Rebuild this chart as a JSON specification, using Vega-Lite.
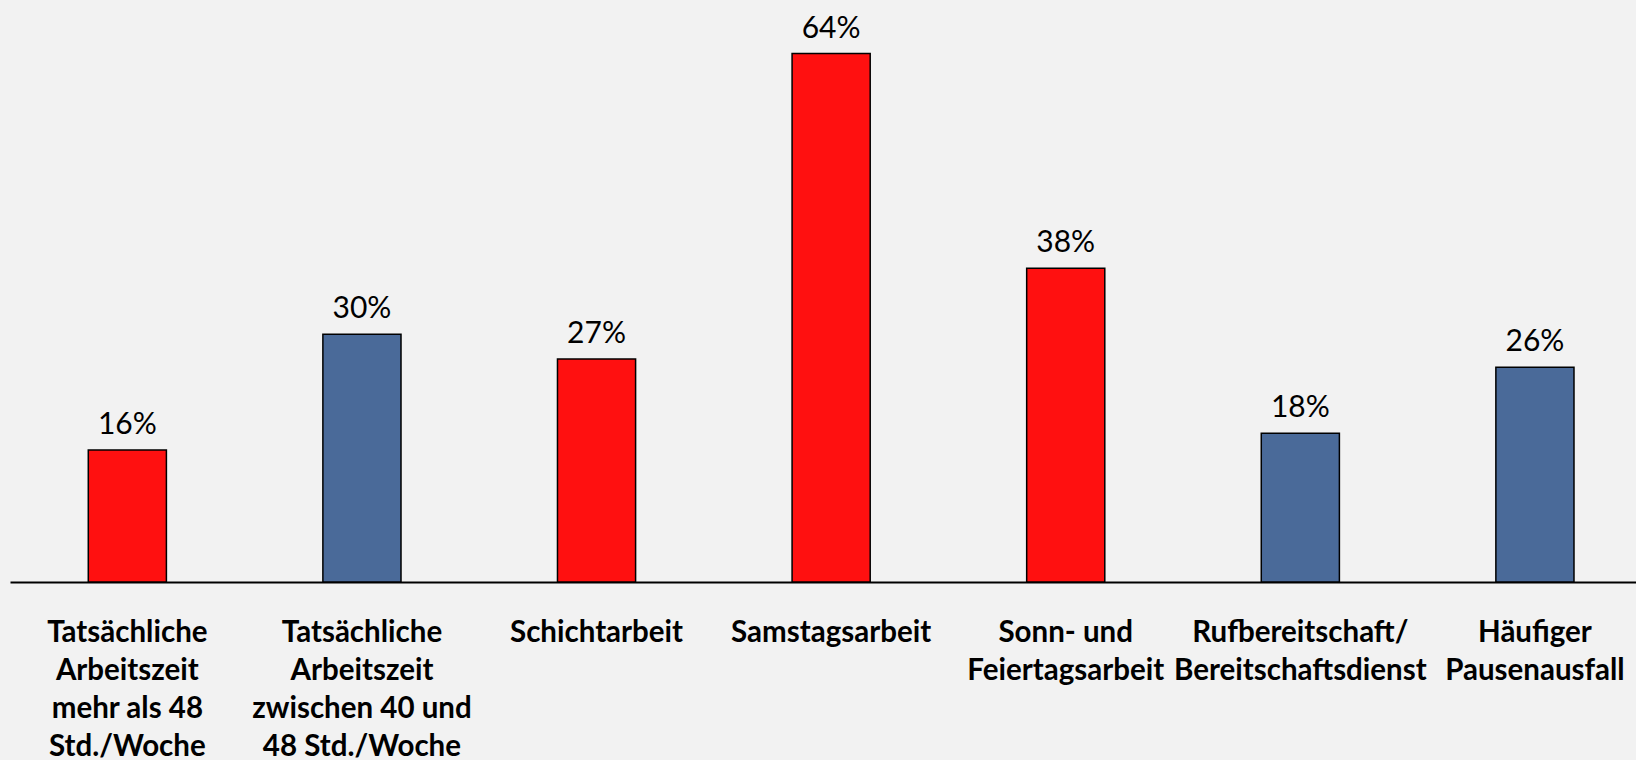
{
  "$schema": "https://vega.github.io/schema/vega-lite/v6.json",
  "width": 1626,
  "height": 578,
  "autosize": {"type": "none"},
  "padding": {"left": 10, "top": 4, "right": 0, "bottom": 178},
  "background": "#F2F2F2",
  "config": {"view": {"stroke": null}},
  "data": {
    "values": [
      {"kategorie": "Tatsächliche\nArbeitszeit\nmehr als 48\nStd./Woche", "anteil": 0.16, "gruppe": "rot"},
      {"kategorie": "Tatsächliche\nArbeitszeit\nzwischen 40 und\n48 Std./Woche", "anteil": 0.30, "gruppe": "blau"},
      {"kategorie": "Schichtarbeit", "anteil": 0.27, "gruppe": "rot"},
      {"kategorie": "Samstagsarbeit", "anteil": 0.64, "gruppe": "rot"},
      {"kategorie": "Sonn- und\nFeiertagsarbeit", "anteil": 0.38, "gruppe": "rot"},
      {"kategorie": "Rufbereitschaft/\nBereitschaftsdienst", "anteil": 0.18, "gruppe": "blau"},
      {"kategorie": "Häufiger\nPausenausfall", "anteil": 0.26, "gruppe": "blau"}
    ]
  },
  "encoding": {
    "x": {
      "field": "kategorie",
      "type": "nominal",
      "sort": null,
      "scale": {"paddingInner": 0.667, "paddingOuter": 0.299, "align": 0.558},
      "axis": {
        "title": null,
        "labelAngle": 0,
        "ticks": false,
        "domainColor": "#000000",
        "domainWidth": 2,
        "labelFont": "Lato",
        "labelFontWeight": "bold",
        "labelFontSize": 29.5,
        "labelColor": "#000000",
        "labelPadding": 36,
        "labelLineHeight": 38,
        "labelBaseline": "top",
        "labelLimit": 400,
        "labelOverlap": false,
        "labelExpr": "split(datum.value, '\\n')"
      }
    },
    "y": {
      "field": "anteil",
      "type": "quantitative",
      "scale": {"domain": [0, 0.7]},
      "axis": null
    }
  },
  "layer": [
    {
      "mark": {"type": "bar", "stroke": "#000000", "strokeWidth": 1.5},
      "encoding": {
        "color": {
          "field": "gruppe",
          "type": "nominal",
          "scale": {"domain": ["rot", "blau"], "range": ["#FF1010", "#4A6A99"]},
          "legend": null
        }
      }
    },
    {
      "mark": {"type": "text", "dy": -16, "baseline": "alphabetic", "font": "Lato", "fontSize": 30, "color": "#000000"},
      "encoding": {
        "text": {"field": "anteil", "type": "quantitative", "format": ".0%"}
      }
    }
  ]
}
